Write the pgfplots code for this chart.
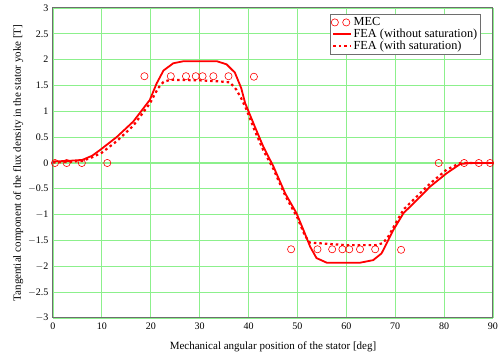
\documentclass[border=0pt]{standalone}
\usepackage{fontspec}
\setmainfont{Liberation Serif}
\usepackage{pgfplots}
\pgfplotsset{compat=1.18}
\definecolor{gridgreen}{RGB}{140,240,140}
\definecolor{frame}{RGB}{110,110,110}
\pgfplotsset{
  mecimg/.style={legend image code/.code={\draw[##1] plot coordinates {(0.05cm,0cm) (0.45cm,0cm)};}},
}
\begin{document}
\begin{tikzpicture}
\begin{axis}[
  at={(0,0)}, anchor=south west,
  scale only axis, width=440pt, height=310pt,
  xmin=0, xmax=90, ymin=-3, ymax=3,
  xtick={0,10,...,90},
  ytick={-3,-2.5,...,3},
  yticklabels={$-$3,$-$2.5,$-$2,$-$1.5,$-$1,$-$0.5,0,0.5,1,1.5,2,2.5,3},
  major tick length=0pt,
  grid=major,
  major grid style={gridgreen, line width=1.1pt},
  axis line style={frame, line width=1pt},
  tick label style={font=\fontsize{10}{11}\selectfont},
  /pgf/number format/assume math mode=true,
  xticklabel style={yshift=-1pt},
  yticklabel style={xshift=-1pt},
  xlabel={Mechanical angular position of the stator [deg]},
  ylabel={Tangential component of the flux density in the stator yoke [T]},
  label style={font=\fontsize{11}{12}\selectfont},
  xlabel style={yshift=-6pt},
  ylabel style={yshift=-2pt},
  legend style={at={(0.972,0.98)}, anchor=north east, draw=frame, line width=0.8pt,
    fill=white, font=\fontsize{12.3}{13}\selectfont, inner sep=1pt, row sep=-2pt,
    cells={anchor=west}},
  legend cell align=left,
]
\addplot[red, only marks, mark=o, mark size=3.6pt, mark options={line width=0.6pt}, mecimg]
coordinates {
(0.4,0) (2.8,0) (5.9,0) (11.1,0)
(18.7,1.68) (24.1,1.68) (27.2,1.68) (29.2,1.68) (30.6,1.68) (32.8,1.68) (35.9,1.68) (41.1,1.67)
(48.7,-1.67) (54.1,-1.67) (57.1,-1.67) (59.2,-1.67) (60.6,-1.67) (62.8,-1.67) (65.9,-1.67) (71.2,-1.68)
(78.9,0) (84.1,0) (87.1,0) (89.4,0)
};
\addlegendentry{MEC}
\addplot[red, line width=1.8pt, line join=round]
coordinates {
(0,0.03) (3,0.04) (6,0.06) (8,0.14) (9.6,0.25) (13,0.5) (16.4,0.8) (19.8,1.22)
(21.2,1.54) (22.6,1.79) (24.6,1.93) (26.7,1.97) (33.5,1.97) (35.5,1.91) (37.2,1.75)
(38.5,1.45) (39.3,1.16) (41.3,0.70) (43,0.32) (45.1,-0.07) (47.5,-0.59) (49.8,-0.97)
(51.5,-1.36) (52.6,-1.62) (53.9,-1.84) (56,-1.93) (62.8,-1.93) (65.5,-1.88) (67.2,-1.75)
(68.6,-1.49) (69.6,-1.30) (71.7,-0.97) (74.4,-0.72) (77.1,-0.46) (80.5,-0.2) (83.3,-0.02)
(85.3,0) (90,0)
};
\addlegendentry{FEA (without saturation)}
\addplot[red, line width=2.2pt, dash pattern=on 2.5pt off 3pt]
coordinates {
(0,0.01) (3,0.02) (6,0.04) (8,0.11) (10,0.2) (13,0.42) (16.4,0.72) (19.8,1.15)
(21.5,1.45) (22.6,1.57) (24,1.61) (30,1.6) (34,1.58) (36.2,1.56) (37.5,1.42) (38.5,1.25)
(39.5,1.05) (41.3,0.62) (43,0.25) (45,-0.1) (47.6,-0.65) (50,-1.06) (51.5,-1.4)
(52.5,-1.54) (54,-1.55) (60,-1.59) (66,-1.59) (67.5,-1.55) (68.6,-1.42) (69.6,-1.25)
(71.7,-0.9) (74.4,-0.65) (77.1,-0.4) (80.5,-0.13) (83.3,0.0) (90,0)
};
\addlegendentry{FEA (with saturation)}
\end{axis}
\pgfresetboundingbox
\path[use as bounding box] (-53pt,-43pt) rectangle (448pt,318pt);
\end{tikzpicture}
\end{document}
